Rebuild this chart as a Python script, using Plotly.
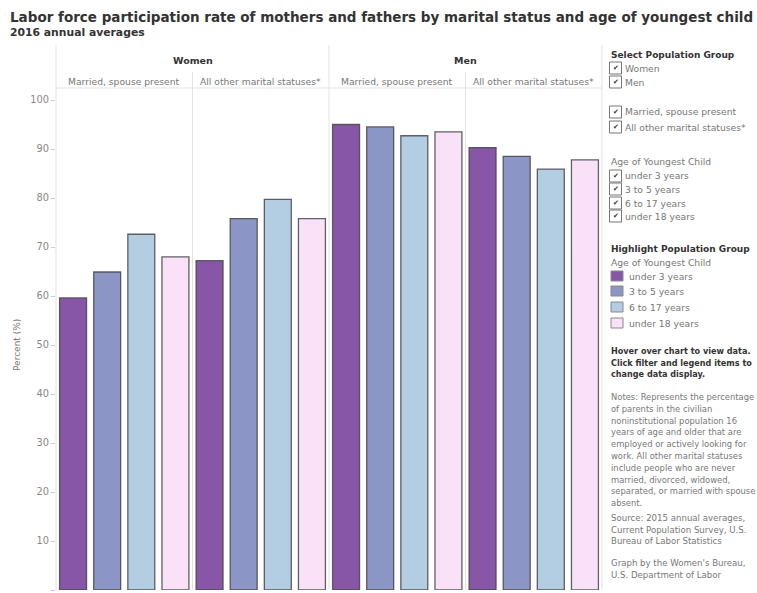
import plotly.graph_objects as go
from plotly.subplots import make_subplots

# ---------------- data ----------------
ages = ["under 3 years", "3 to 5 years", "6 to 17 years", "under 18 years"]
sexes = ["Women", "Men"]
statuses = ["Married, spouse present", "All other marital statuses*"]
women_married = [59.6, 64.9, 72.6, 68.0]
women_other = [67.2, 75.8, 79.7, 75.8]
men_married = [95.0, 94.5, 92.7, 93.5]
men_other = [90.3, 88.5, 85.9, 87.8]
y_ticks = [0, 10, 20, 30, 40, 50, 60, 70, 80, 90, 100]

panels = [women_married, women_other, men_married, men_other]
colors = ["#8856a7", "#8c96c6", "#b3cde3", "#f9e2f8"]

W, H = 757, 593
L, R, T, B = 56, 155, 88, 3
PW = W - L - R
PH = H - T - B
FONT = "DejaVu Sans"


def px(x):
    return (x - L) / PW


def py(y):
    return (H - B - y) / PH


fig = make_subplots(rows=1, cols=4, shared_yaxes=True, horizontal_spacing=0)

for i, vals in enumerate(panels):
    fig.add_trace(
        go.Bar(
            x=ages, y=vals,
            marker=dict(color=colors, line=dict(color="rgba(70,70,70,0.85)", width=1.3)),
            width=0.79,
            showlegend=False,
            hovertemplate="%{x}: %{y:.1f}%<extra></extra>",
        ),
        row=1, col=i + 1,
    )

fig.update_xaxes(showticklabels=False, showgrid=False, showline=False, ticks="", zeroline=False)
fig.update_yaxes(range=[0, PH / 4.9], tickvals=y_ticks, showgrid=False, zeroline=False, showline=False)
fig.update_yaxes(ticks="outside", ticklen=4, tickcolor="#cccccc",
                 tickfont=dict(family=FONT, size=9.8, color="#888888"), row=1, col=1)

shapes = []
line_c = "#e2e2e2"
for xv, ytop in [(0, 45), (0.25, 72), (0.5, 45), (0.75, 72), (1, 45)]:
    shapes.append(dict(type="line", xref="paper", yref="paper", x0=xv, x1=xv, y0=py(H - B), y1=py(ytop),
                       line=dict(color=line_c, width=1)))
shapes.append(dict(type="line", xref="paper", yref="paper", x0=0, x1=1, y0=1, y1=1,
                   line=dict(color=line_c, width=1)))

ann = []


def text(x, y, s, size=10, color="#777777", bold=False, xanchor="left", angle=0):
    ann.append(dict(x=px(x), y=py(y), xref="paper", yref="paper", text=("<b>%s</b>" % s) if bold else s,
                    showarrow=False, xanchor=xanchor, yanchor="middle", textangle=angle,
                    font=dict(family=FONT, size=size, color=color)))


# titles
text(8, 17, "Labor force participation rate of mothers and fathers by marital status and age of youngest child",
     size=13.5, color="#333333", bold=True)
text(8, 32, "2016 annual averages", size=10.8, color="#333333", bold=True)

# facet headers
for j, s in enumerate(sexes):
    ann.append(dict(x=0.25 + 0.5 * j, y=py(60), xref="paper", yref="paper", text="<b>%s</b>" % s,
                    showarrow=False, xanchor="center", yanchor="middle",
                    font=dict(family=FONT, size=9.5, color="#333333")))
    for k, st in enumerate(statuses):
        ann.append(dict(x=0.125 + 0.5 * j + 0.25 * k, y=py(81), xref="paper", yref="paper", text=st,
                        showarrow=False, xanchor="center", yanchor="middle",
                        font=dict(family=FONT, size=9.2, color="#777777")))

text(17, 345, "Percent (%)", size=9, color="#777777", xanchor="center", angle=-90)

# right panel: filters
dark = "#333333"
grey = "#777777"
text(609, 55, "Select Population Group", size=9, color=dark, bold=True)
checks = [(68, sexes[0]), (82, sexes[1]), (112, statuses[0]), (127, statuses[1]),
          (176, ages[0]), (189, ages[1]), (203, ages[2]), (216, ages[3])]
text(609, 161, "Age of Youngest Child", size=9.2, color=grey)
for yc, label in checks:
    shapes.append(dict(type="rect", xref="paper", yref="paper", x0=px(609.5), x1=px(621.5),
                       y0=py(yc + 6), y1=py(yc - 6), line=dict(color="#777777", width=1),
                       fillcolor="white"))
    ann.append(dict(x=px(615.5), y=py(yc), xref="paper", yref="paper", text="✔", showarrow=False,
                    xanchor="center", yanchor="middle", font=dict(family="DejaVu Sans", size=7, color="#333333")))
    text(623, yc, label, size=9.2, color=grey)

# right panel: highlight legend
text(609, 249, "Highlight Population Group", size=9, color=dark, bold=True)
text(609, 262, "Age of Youngest Child", size=9.2, color=grey)
for yc, label, c in zip([276, 291, 307, 323], ages, colors):
    shapes.append(dict(type="rect", xref="paper", yref="paper", x0=px(611), x1=px(623),
                       y0=py(yc + 5), y1=py(yc - 5), line=dict(color="#888888", width=1), fillcolor=c))
    text(627, yc, label, size=9.2, color=grey)

hover_lines = ["Hover over chart to view data.", "Click filter and legend items to", "change data display."]
for k, s in enumerate(hover_lines):
    text(609, 351 + 11.5 * k, s, size=8.1, color=dark, bold=True)

notes = ["Notes: Represents the percentage", "of parents in the civilian",
         "noninstitutional population 16", "years of age and older that are",
         "employed or actively looking for", "work. All other marital statuses",
         "include people who are never", "married, divorced, widowed,",
         "separated, or married with spouse", "absent."]
for k, s in enumerate(notes):
    text(609, 397 + 11.8 * k, s, size=8.4, color=grey)

source = ["Source: 2015 annual averages,", "Current Population Survey, U.S.", "Bureau of Labor Statistics"]
for k, s in enumerate(source):
    text(609, 518 + 11.6 * k, s, size=8.6, color=grey)

credit = ["Graph by the Women's Bureau,", "U.S. Department of Labor"]
for k, s in enumerate(credit):
    text(609, 563 + 11.6 * k, s, size=8.6, color=grey)

fig.update_layout(
    width=W, height=H,
    margin=dict(l=L, r=R, t=T, b=B, pad=0),
    plot_bgcolor="white", paper_bgcolor="white",
    bargap=0.21,
    shapes=shapes, annotations=ann,
    font=dict(family=FONT),
)

fig.write_html("out.html", config={"displayModeBar": False},
               post_script="document.body.style.margin='0px';")
